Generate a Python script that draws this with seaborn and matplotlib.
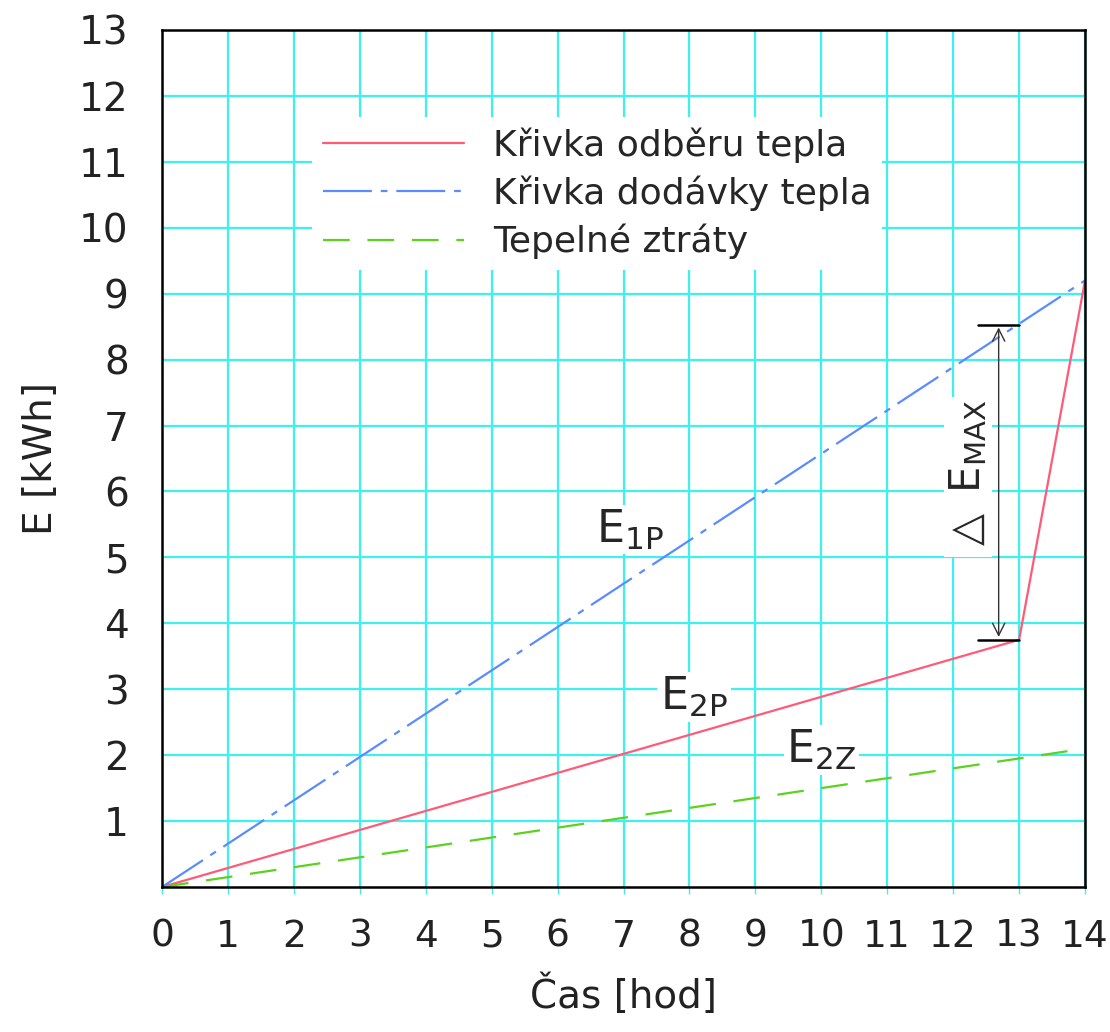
import matplotlib
matplotlib.use("Agg")
import matplotlib.pyplot as plt
import pandas as pd
import seaborn as sns

# data
cas_odber = [0, 13, 14]
e_odber = [0, 3.75, 9.2]
cas_dodavka = [0, 14]
e_dodavka = [0, 9.2]
cas_ztraty = [0, 14]
e_ztraty = [0, 2.1]
x_ticks = list(range(0, 15))
y_ticks = list(range(1, 14))

sns.set_style("white")
plt.rcParams['font.family'] = ['DejaVu Sans']

fig = plt.figure(figsize=(11.1, 10.32), dpi=100)
ax = fig.add_axes([0.146, 0.1405, 0.8315, 0.8305])

cyan = '#3ff0f0'
ax.set_axisbelow(True)
ax.grid(True, color=cyan, linewidth=1.6)

df1 = pd.DataFrame({'x': cas_odber, 'y': e_odber})
df2 = pd.DataFrame({'x': cas_dodavka, 'y': e_dodavka})
df3 = pd.DataFrame({'x': cas_ztraty, 'y': e_ztraty})

sns.lineplot(data=df1, x='x', y='y', ax=ax, color='#ff5a78', linewidth=1.6,
             label='Křivka odběru tepla', sort=False)
sns.lineplot(data=df2, x='x', y='y', ax=ax, color='#5a8cff', linewidth=1.6,
             label='Křivka dodávky tepla')
ax.lines[-1].set_dashes([22, 4, 3, 4])
sns.lineplot(data=df3, x='x', y='y', ax=ax, color='#5ad21e', linewidth=1.6,
             label='Tepelné ztráty')
ax.lines[-1].set_dashes([12, 8])

ax.set_xlim(0, 14)
ax.set_ylim(0, 13)
ax.set_xticks(x_ticks)
ax.set_yticks(y_ticks)
ax.tick_params(axis='y', length=0, labelsize=28, pad=24, colors='#222222')
ax.tick_params(axis='x', length=5, width=1, color=cyan, labelsize=27, pad=18,
               labelcolor='#222222', direction='out')
ax.xaxis.set_ticks_position('bottom')
for s in ax.spines.values():
    s.set_color('black')
    s.set_linewidth(1.8)

ax.set_xlabel('Čas [hod]', fontsize=28, color='#222222', labelpad=14)
ax.set_ylabel('E [kWh]', fontsize=28, color='#222222', labelpad=14)

leg = ax.legend(loc='upper left', bbox_to_anchor=(0.143, 0.92), fontsize=26,
                frameon=True, framealpha=1, facecolor='white', edgecolor='none',
                handlelength=3.9, handletextpad=0.8, labelspacing=0.35,
                borderpad=0.3)
leg.get_frame().set_linewidth(0)

# delta E max dimension
ax.annotate('', xy=(12.69, 8.53), xytext=(12.69, 3.75),
            arrowprops=dict(arrowstyle='<->', color='#333333', lw=1.0,
                            mutation_scale=22))
ax.plot([12.37, 13.0], [8.53, 8.53], color='black', lw=1.8)
ax.plot([12.37, 13.0], [3.75, 3.75], color='black', lw=1.8)

box = dict(facecolor='white', edgecolor='none', pad=2)
ax.text(12.22, 6.22, r'$\triangle$ E$_{\mathrm{MAX}}$', rotation=90, fontsize=30,
        ha='center', va='center', bbox=box)
ax.text(7.1, 5.42, r'E$_{\mathrm{1P}}$', fontsize=32, ha='center', va='center', bbox=box)
ax.text(8.07, 2.88, r'E$_{\mathrm{2P}}$', fontsize=32, ha='center', va='center', bbox=box)
ax.text(10.0, 2.08, r'E$_{\mathrm{2Z}}$', fontsize=32, ha='center', va='center', bbox=box)

fig.savefig('out.png', dpi=100)
